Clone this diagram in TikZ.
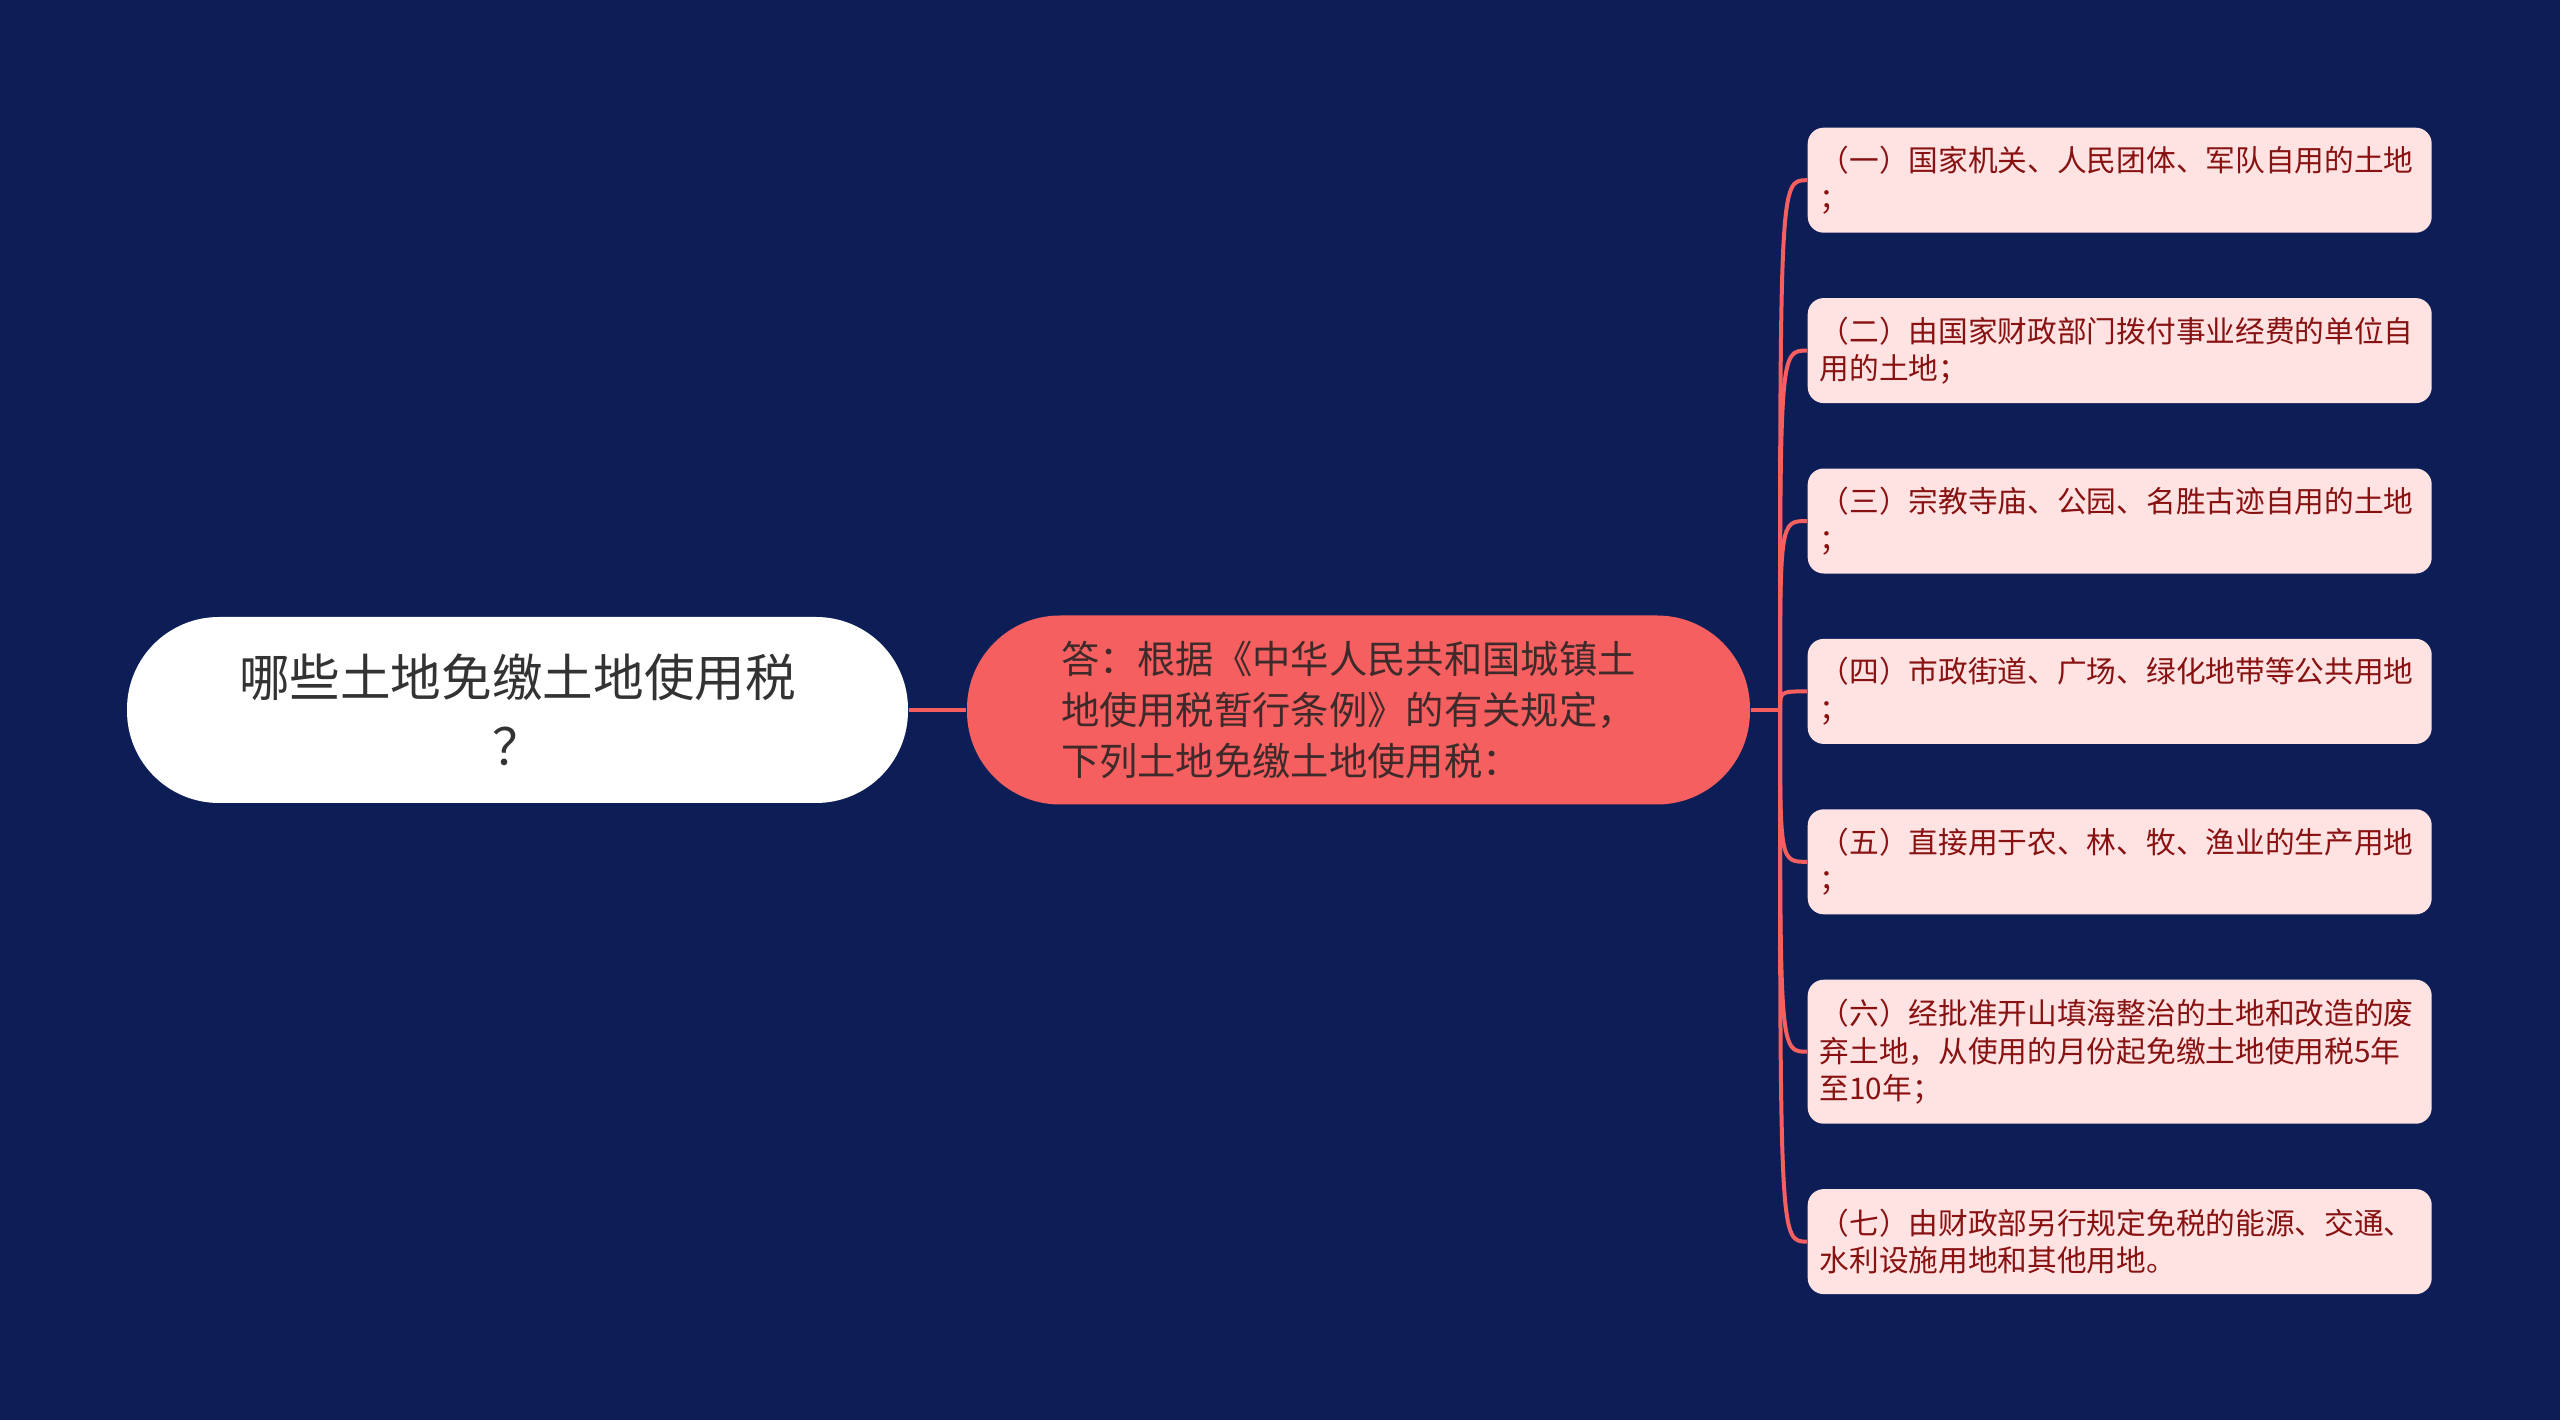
\documentclass[tikz,border=0pt]{standalone}
\usepackage{fontspec}
\setmainfont{Noto Sans CJK SC}
\usetikzlibrary{positioning}

\definecolor{navy}{HTML}{0D1E57}
\definecolor{coral}{HTML}{F65F5F}
\definecolor{blush}{HTML}{FFE2E2}
\definecolor{wine}{HTML}{881212}
\definecolor{ink}{HTML}{3E2A2A}

\tikzset{
	topic/.style={fill=white, text=black!80, rounded corners=9.2mm, minimum width=78.1mm, minimum height=18.6mm, align=center, font=\fontsize{14.4pt}{19.6pt}\selectfont},
	answer/.style={fill=coral, text=ink, rounded corners=9.3mm, minimum width=78.3mm, minimum height=18.9mm, text width=59.5mm, align=left, font=\fontsize{10.9pt}{14.4pt}\selectfont},
	leaf/.style={fill=blush, text=wine, rounded corners=1.6mm, minimum width=62.4mm, minimum height=10.5mm, text width=60mm, inner xsep=1.2mm, align=left, font=\fontsize{8.45pt}{10.7pt}\selectfont},
	link/.style={draw=coral, line width=0.4mm}
}

\begin{document}
\begin{tikzpicture}[x=0.1mm, y=-0.1mm]
			\fill[navy] (0,0) rectangle (2560,1420);
			\useasboundingbox (0,0) rectangle (2560,1420);
			\node (q) [topic] at (517.5,710) {哪些土地免缴土地使用税\\？};
			\node (a) [answer] at (1358.5,710) {答：根据《中华人民共和国城镇土\\地使用税暂行条例》的有关规定，\\下列土地免缴土地使用税：};
			\coordinate (h) at (1780,710);
			\node (a1) [leaf, anchor=north west] at (1807,127) {（一）国家机关、人民团体、军队自用的土地\\；};
			\node (a2) [leaf, below=6.4mm of a1] {（二）由国家财政部门拨付事业经费的单位自\\用的土地；};
			\node (a3) [leaf, below=6.4mm of a2] {（三）宗教寺庙、公园、名胜古迹自用的土地\\；};
			\node (a4) [leaf, below=6.4mm of a3] {（四）市政街道、广场、绿化地带等公共用地\\；};
			\node (a5) [leaf, below=6.4mm of a4] {（五）直接用于农、林、牧、渔业的生产用地\\；};
			\node (a6) [leaf, below=6.4mm of a5, minimum height=14.4mm] {（六）经批准开山填海整治的土地和改造的废\\弃土地，从使用的月份起免缴土地使用税5年\\至10年；};
			\node (a7) [leaf, below=6.4mm of a6] {（七）由财政部另行规定免税的能源、交通、\\水利设施用地和其他用地。};
			\draw[link] (q) -- (a);
			\draw[link] (a) -- (h);
			\foreach \n in {a1,a2,a3,a4,a5,a6,a7}
				\draw[link] (h) .. controls (h |- \n.west) .. (\n.west);
		\end{tikzpicture}
\end{document}
